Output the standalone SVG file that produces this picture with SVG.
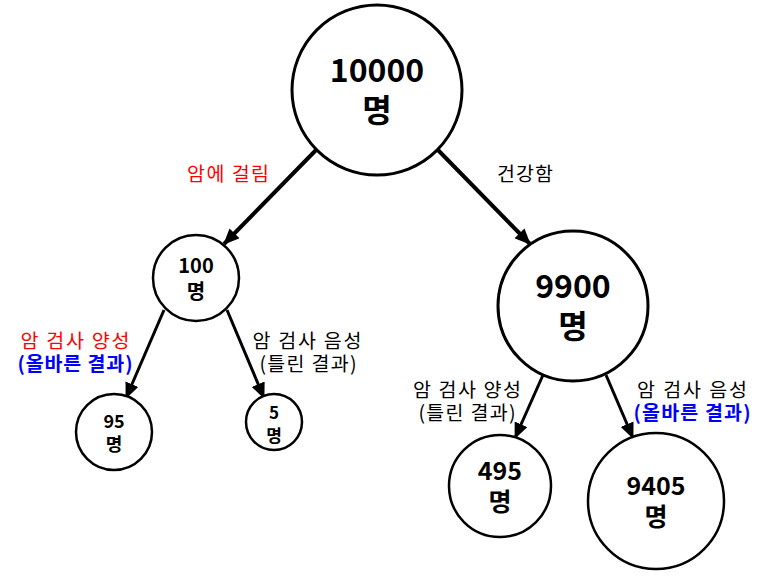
<svg xmlns="http://www.w3.org/2000/svg" width="766" height="585" viewBox="0 0 766 585">
<style>
.node circle{fill:#fff;stroke:#000}
.num{font-family:"Noto Sans CJK KR","Noto Sans",sans-serif;font-weight:bold;text-anchor:middle;fill:#000}
.lbl{font-family:"Noto Sans CJK KR","Noto Sans",sans-serif;font-size:19.5px;text-anchor:middle;fill:#000}
.red{fill:#ff0000}
.blue{fill:#0000ff;font-weight:bold}
.edges line{stroke:#000;fill:none}
</style>
<defs>
<marker id="ah" markerUnits="userSpaceOnUse" viewBox="0 0 16 14" refX="15" refY="7" markerWidth="16" markerHeight="14" orient="auto">
<path d="M0,0 L16,7 L0,14 Z" fill="#000"/>
</marker>
</defs>
<g class="edges">
<line x1="318" y1="148" x2="224" y2="244" stroke-width="4" marker-end="url(#ah)"/>
<line x1="436" y1="148" x2="530" y2="244" stroke-width="4" marker-end="url(#ah)"/>
<line x1="164" y1="310" x2="126" y2="398" stroke-width="3" marker-end="url(#ah)"/>
<line x1="227" y1="310" x2="264" y2="398" stroke-width="3" marker-end="url(#ah)"/>
<line x1="543" y1="375" x2="515" y2="438" stroke-width="3" marker-end="url(#ah)"/>
<line x1="606" y1="375" x2="633" y2="438" stroke-width="3" marker-end="url(#ah)"/>
</g>
<g id="n10000" class="node">
<circle cx="377" cy="90" r="85" stroke-width="3"/>
<text class="num" x="377" y="82" font-size="32">10000</text>
<text class="num" x="377" y="122" font-size="32">명</text>
</g>
<g id="n100" class="node">
<circle cx="196" cy="278" r="43" stroke-width="2.5"/>
<text class="num" x="196" y="273" font-size="20">100</text>
<text class="num" x="196" y="299" font-size="20">명</text>
</g>
<g id="n9900" class="node">
<circle cx="573" cy="306" r="75" stroke-width="3"/>
<text class="num" x="573" y="298" font-size="32">9900</text>
<text class="num" x="573" y="338" font-size="32">명</text>
</g>
<g id="n95" class="node">
<circle cx="114" cy="432" r="38" stroke-width="2.5"/>
<text class="num" x="114" y="428" font-size="18">95</text>
<text class="num" x="114" y="451" font-size="18">명</text>
</g>
<g id="n5" class="node">
<circle cx="274" cy="422" r="28" stroke-width="2.5"/>
<text class="num" x="274" y="419" font-size="17">5</text>
<text class="num" x="274" y="442" font-size="17">명</text>
</g>
<g id="n495" class="node">
<circle cx="500" cy="486" r="51" stroke-width="2.5"/>
<text class="num" x="500" y="480" font-size="25">495</text>
<text class="num" x="500" y="511" font-size="25">명</text>
</g>
<g id="n9405" class="node">
<circle cx="656" cy="501" r="68" stroke-width="2.5"/>
<text class="num" x="656" y="495" font-size="25">9405</text>
<text class="num" x="656" y="526" font-size="25">명</text>
</g>
<g id="labels">
<text class="lbl red" x="228" y="181" textLength="82">암에 걸림</text>
<text class="lbl" x="525" y="181" textLength="56">건강함</text>
<text class="lbl red" x="75" y="348" textLength="109">암 검사 양성</text>
<text class="lbl blue" x="75" y="371" textLength="115">(올바른 결과)</text>
<text class="lbl" x="307" y="348" textLength="109">암 검사 음성</text>
<text class="lbl" x="308" y="371" textLength="97">(틀린 결과)</text>
<text class="lbl" x="467" y="397" textLength="108">암 검사 양성</text>
<text class="lbl" x="467" y="420" textLength="97">(틀린 결과)</text>
<text class="lbl" x="692" y="397" textLength="110">암 검사 음성</text>
<text class="lbl blue" x="692" y="420" textLength="117">(올바른 결과)</text>
</g>
</svg>
